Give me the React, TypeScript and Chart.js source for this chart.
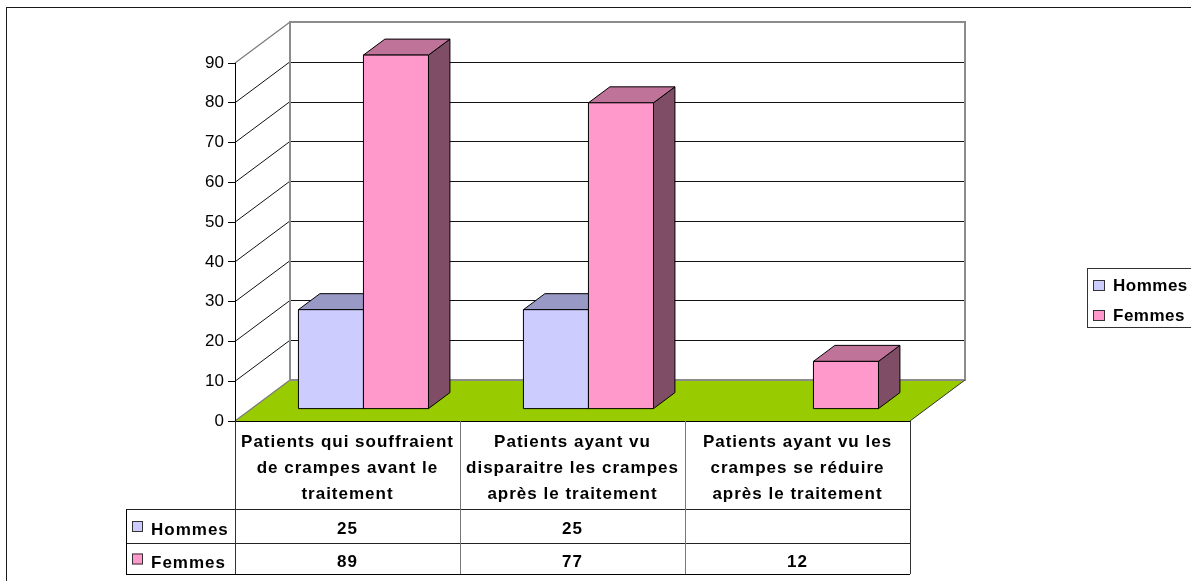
import React, { useEffect, useRef } from 'react';
import { Chart, registerables } from 'chart.js';

Chart.register(...registerables);

// ---------- data ----------
const categories: string[][] = [
  ['Patients qui souffraient', 'de crampes avant le', 'traitement'],
  ['Patients ayant vu', 'disparaitre les crampes', 'après le traitement'],
  ['Patients ayant vu les', 'crampes se réduire', 'après le traitement'],
];
const seriesNames = ['Hommes', 'Femmes'];
const hommes: (number | null)[] = [25, 25, null];
const femmes: (number | null)[] = [89, 77, 12];
const yMin = 0;
const yMax = 90;
const yStep = 10;

// ---------- styles / layout ----------
const W = 1191;
const H = 581;
const FONT = "'Liberation Sans', Arial, Helvetica, sans-serif";
const PLOT = { left: 235, right: 910, top: 63, bottom: 421 };
const DEPTH = { dx: 55, dy: -41 };
const BAR_Z = [0.29, 0.68];
const frontColors = ['#CCCCFF', '#FF99CC'];
const topColors = ['#9999C6', '#BF7399'];
const sideColors = ['#666699', '#7F4D66'];
const FLOOR = '#99CC00';
const TABLE = { headerH: 88, rowH: [34, 31], labelLeft: 126, lineH: 26 };
const LEGEND = { left: 1087, top: 268, bottom: 327, rowY: [286, 316] };

const px = (v: number) => Math.round(v) + 0.5;

function poly(ctx: CanvasRenderingContext2D, pts: number[][], fill?: string, stroke?: string) {
  ctx.beginPath();
  ctx.moveTo(pts[0][0], pts[0][1]);
  for (let i = 1; i < pts.length; i++) ctx.lineTo(pts[i][0], pts[i][1]);
  ctx.closePath();
  if (fill) {
    ctx.fillStyle = fill;
    ctx.fill();
  }
  if (stroke) {
    ctx.strokeStyle = stroke;
    ctx.stroke();
  }
}

function line(ctx: CanvasRenderingContext2D, x1: number, y1: number, x2: number, y2: number, color: string, w = 1) {
  ctx.beginPath();
  ctx.moveTo(x1, y1);
  ctx.lineTo(x2, y2);
  ctx.strokeStyle = color;
  ctx.lineWidth = w;
  ctx.stroke();
}

const threeD = {
  id: 'threeD',
  beforeDraw(chart: any) {
    const { ctx, chartArea: a } = chart;
    const y = chart.scales.y;
    const { dx, dy } = DEPTH;
    const y0 = y.getPixelForValue(yMin);
    const yT = y.getPixelForValue(yMax);
    ctx.save();
    // outer chart border
    ctx.lineWidth = 1;
    ctx.strokeStyle = '#1a1a1a';
    ctx.strokeRect(6.5, 7.5, W + 40, H + 40);

    // floor
    poly(ctx, [[a.left, y0], [a.left + dx, y0 + dy], [a.right + dx, y0 + dy], [a.right, y0]], FLOOR);

    // grid lines on back wall + side wall diagonals
    y.ticks.forEach((t: any) => {
      const py = y.getPixelForValue(t.value);
      if (t.value > yMin && t.value < yMax) {
        line(ctx, px(a.left + dx), px(py + dy), px(a.right + dx), px(py + dy), '#111');
        line(ctx, a.left, py, a.left + dx, py + dy, '#111');
      }
    });
    // top diagonal and floor diagonal (gray)
    line(ctx, a.left, yT, a.left + dx, yT + dy, '#7a7a7a', 1.2);
    line(ctx, a.left, y0, a.left + dx, y0 + dy, '#7a7a7a', 1.2);
    // back wall outline
    ctx.lineWidth = 2;
    ctx.strokeStyle = '#8c8c8c';
    ctx.strokeRect(Math.round(a.left + dx), Math.round(yT + dy), Math.round(a.right - a.left), Math.round(y0 - yT));
    // floor right diagonal
    line(ctx, a.right, y0, a.right + dx, y0 + dy, '#333', 1);
    ctx.restore();
  },
  beforeDatasetsDraw(chart: any) {
    const { ctx } = chart;
    const n = chart.data.labels.length;
    const fx = DEPTH.dx * BAR_Z[0];
    const fy = DEPTH.dy * BAR_Z[0];
    const bx = DEPTH.dx * (BAR_Z[1] - BAR_Z[0]);
    const by = DEPTH.dy * (BAR_Z[1] - BAR_Z[0]);
    ctx.save();
    ctx.lineWidth = 1;
    ctx.lineJoin = 'round';
    for (let i = 0; i < n; i++) {
      chart.data.datasets.forEach((ds: any, d: number) => {
        const v = ds.data[i];
        if (v == null) return;
        const el = chart.getDatasetMeta(d).data[i];
        const { x, y, base, width } = el.getProps(['x', 'y', 'base', 'width'], true);
        const l = x - width / 2 + fx;
        const r = x + width / 2 + fx;
        const t = y + fy;
        const b = base + fy;
        poly(ctx, [[r, b], [r + bx, b + by], [r + bx, t + by], [r, t]], sideColors[d], '#000');
        poly(ctx, [[l, t], [r, t], [r + bx, t + by], [l + bx, t + by]], topColors[d], '#000');
        poly(ctx, [[l, b], [r, b], [r, t], [l, t]], frontColors[d], '#000');
      });
    }
    ctx.restore();
    return false;
  },
  afterDraw(chart: any) {
    const { ctx, chartArea: a } = chart;
    const x = chart.scales.x;
    const n = categories.length;
    const colW = (a.right - a.left) / n;
    const top = a.bottom;
    const hb = top + TABLE.headerH;
    const r1 = hb + TABLE.rowH[0];
    const r2 = r1 + TABLE.rowH[1];
    ctx.save();
    // table lines
    line(ctx, a.left - 7, px(top), a.right, px(top), '#000');
    line(ctx, TABLE.labelLeft, px(hb), a.right, px(hb), '#222');
    line(ctx, TABLE.labelLeft, px(r1), a.right, px(r1), '#222');
    line(ctx, TABLE.labelLeft, px(r2), a.right, px(r2), '#000');
    line(ctx, px(TABLE.labelLeft), px(hb), px(TABLE.labelLeft), px(r2), '#000');
    for (let i = 0; i <= n; i++) {
      const cx = px(a.left + i * colW);
      line(ctx, cx, top, cx, r2, i === 0 || i === n ? '#333' : '#777');
    }
    // header text
    ctx.fillStyle = '#000';
    ctx.font = `bold 17px ${FONT}`;
    (ctx as any).letterSpacing = '1px';
    ctx.textAlign = 'center';
    ctx.textBaseline = 'alphabetic';
    const midH = (top + hb) / 2;
    categories.forEach((lines, i) => {
      const cx = x.getPixelForValue(i);
      lines.forEach((s, k) => {
        const by = midH + (k - (lines.length - 1) / 2) * TABLE.lineH + 8;
        ctx.fillText(s, cx, by);
      });
    });
    // values
    const rows = [
      { vals: hommes, top: hb, bot: r1 },
      { vals: femmes, top: r1, bot: r2 },
    ];
    rows.forEach((row, ri) => {
      const base = (row.top + row.bot) / 2 + 8;
      row.vals.forEach((v, i) => {
        if (v == null) return;
        ctx.textAlign = 'center';
        ctx.fillText(String(v), x.getPixelForValue(i), base);
      });
      // row header
      ctx.fillStyle = frontColors[ri];
      ctx.fillRect(132, base - 13, 11, 11);
      ctx.lineWidth = 1;
      ctx.strokeStyle = '#333';
      ctx.strokeRect(132.5, base - 12.5, 10, 10);
      ctx.fillStyle = '#000';
      ctx.textAlign = 'left';
      ctx.fillText(seriesNames[ri], 151, base + 1);
    });

    // legend
    line(ctx, px(LEGEND.left), px(LEGEND.top), px(LEGEND.left), px(LEGEND.bottom), '#333');
    line(ctx, LEGEND.left, px(LEGEND.top), W, px(LEGEND.top), '#333');
    line(ctx, LEGEND.left, px(LEGEND.bottom), W, px(LEGEND.bottom), '#333');
    (ctx as any).letterSpacing = '0.5px';
    seriesNames.forEach((name, i) => {
      const cy = LEGEND.rowY[i];
      ctx.fillStyle = frontColors[i];
      ctx.fillRect(1093, cy - 6, 12, 11);
      ctx.strokeStyle = '#333';
      ctx.strokeRect(1093.5, cy - 5.5, 11, 10);
      ctx.fillStyle = '#000';
      ctx.textAlign = 'left';
      ctx.fillText(name, 1113, cy + 5);
    });
    ctx.restore();
  },
};

export default function App() {
  const ref = useRef<HTMLCanvasElement>(null);
  useEffect(() => {
    if (!ref.current) return;
    const chart = new Chart(ref.current, {
      type: 'bar',
      data: {
        labels: categories.map((c) => c.join(' ')),
        datasets: [
          { label: seriesNames[0], data: hommes, backgroundColor: frontColors[0] },
          { label: seriesNames[1], data: femmes, backgroundColor: frontColors[1] },
        ],
      },
      options: {
        responsive: false,
        animation: false,
        events: [],
        layout: { padding: { left: 0, right: W - PLOT.right, top: PLOT.top, bottom: H - PLOT.bottom } },
        datasets: { bar: { categoryPercentage: 0.578, barPercentage: 1 } },
        plugins: { legend: { display: false }, tooltip: { enabled: false }, title: { display: false } },
        scales: {
          x: { display: false },
          y: {
            min: yMin,
            max: yMax,
            ticks: { stepSize: yStep, color: '#000', font: { size: 17, family: FONT }, padding: 4 },
            grid: { drawOnChartArea: false, drawTicks: true, tickLength: 7, color: '#000' },
            border: { display: true, color: '#000' },
            afterFit: (s: any) => {
              s.width = PLOT.left;
            },
          },
        },
      } as any,
      plugins: [threeD],
    });
    return () => chart.destroy();
  }, []);
  return (
    <div style={{ position: 'fixed', left: 0, top: 0, width: W, height: H, background: '#fff' }}>
      <canvas ref={ref} width={W} height={H} style={{ display: 'block' }} />
    </div>
  );
}
